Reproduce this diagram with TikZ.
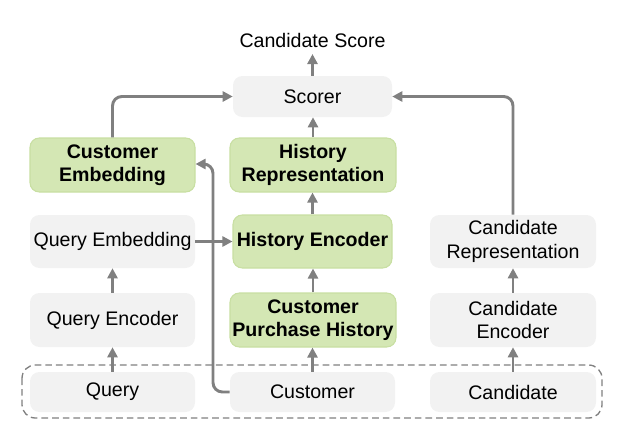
\documentclass[tikz,border=0pt]{standalone}
\usepackage{fontspec}
\setmainfont{Liberation Sans}
\usetikzlibrary{arrows.meta}
\definecolor{boxgray}{HTML}{F2F2F2}
\definecolor{boxgreen}{HTML}{D4E7B4}
\definecolor{edgegreen}{HTML}{C8DFA2}
\definecolor{arrowgray}{HTML}{808080}
\tikzset{
  gbox/.style={fill=boxgray, rounded corners=7pt, inner sep=0pt, align=center,
    font=\fontsize{14.7}{17.5}\selectfont},
  grbox/.style={fill=boxgreen, draw=edgegreen, line width=0.8pt, rounded corners=7pt, inner sep=0pt, align=center,
    font=\fontsize{14.7}{17.5}\selectfont\bfseries},
  conn/.style={draw=arrowgray, line width=2.2pt, rounded corners=7pt,
    -{Triangle[length=7.5pt,width=7.5pt]}},
}
\begin{document}
\begin{tikzpicture}[x=0.75pt,y=-0.75pt]
\useasboundingbox (0,0) rectangle (627,439);
% dashed input frame
\draw[arrowgray, line width=1pt, dash pattern=on 5pt off 3pt, rounded corners=10pt] (22,365) rectangle (602,418);
% left column
\node[grbox, minimum width=123.75pt, minimum height=40.5pt] (cemb) at (112.5,165) {Customer\\Embedding};
\node[gbox, minimum width=123.75pt, minimum height=39.75pt] (qemb) at (112.5,241.5) {Query Embedding};
\node[gbox, minimum width=123.75pt, minimum height=40.5pt] (qenc) at (112.5,320) {Query Encoder};
\node[gbox, minimum width=123.75pt, minimum height=30pt] (query) at (112.5,392) {Query};
% middle column
\node[font=\fontsize{14.7}{17.5}\selectfont, inner sep=0pt] (score) at (312.5,40) {Candidate Score};
\node[gbox, minimum width=119.25pt, minimum height=30.75pt] (scorer) at (312.5,96.5) {Scorer};
\node[grbox, minimum width=124.5pt, minimum height=40.5pt] (hrep) at (313,165) {History\\Representation};
\node[grbox, minimum width=119.25pt, minimum height=39.75pt] (henc) at (312.5,241.5) {History Encoder};
\node[grbox, minimum width=124.5pt, minimum height=40.5pt] (cph) at (313,320) {Customer\\Purchase History};
\node[gbox, minimum width=123.75pt, minimum height=30pt] (cust) at (312.5,392) {Customer};
% right column
\node[gbox, minimum width=124.5pt, minimum height=39.75pt] (crep) at (513,241.5) {Candidate\\Representation};
\node[gbox, minimum width=124.5pt, minimum height=40.5pt] (cenc) at (513,320) {Candidate\\Encoder};
\node[gbox, minimum width=124.5pt, minimum height=30pt] (cand) at (513,392) {Candidate};
% coordinates
\coordinate (scoretip) at (312.5,54);
\coordinate (bendL) at (112.5,96.5);
\coordinate (bendR) at (513,96.5);
\coordinate (custdn) at (213,392);
\coordinate (custup) at (213,164);
% connectors
\draw[conn] (scorer.north) -- (scoretip);
\draw[conn] (hrep.north) -- (hrep.north |- scorer.south);
\draw[conn] (henc.north) -- (henc.north |- hrep.south);
\draw[conn] (cph.north) -- (cph.north |- henc.south);
\draw[conn] (cust.north) -- (cust.north |- cph.south);
\draw[conn] (query.north) -- (qenc.south);
\draw[conn] (qenc.north) -- (qemb.south);
\draw[conn] (cand.north) -- (cenc.south);
\draw[conn] (cenc.north) -- (crep.south);
\draw[conn] (cemb.north) -- (bendL) -- (scorer.west);
\draw[conn] (crep.north) -- (bendR) -- (scorer.east);
\draw[conn] (cust.west) -- (custdn) -- (custup) -- (cemb.east |- custup);
\draw[conn] (qemb.east) -- (henc.west);
\end{tikzpicture}
\end{document}
